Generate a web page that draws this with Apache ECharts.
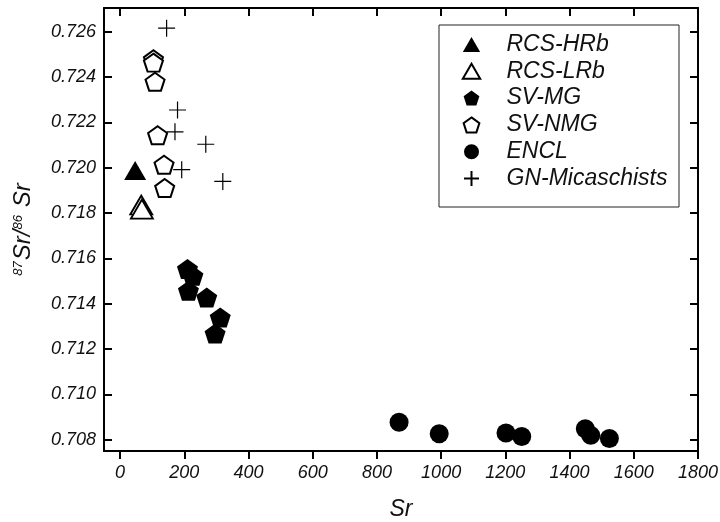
<!DOCTYPE html>
<html>
<head>
<meta charset="utf-8">
<script src="https://cdn.jsdelivr.net/npm/echarts@6/dist/echarts.min.js"></script>
<style>
  html, body { margin: 0; padding: 0; background: #fff; }
  #chart { width: 720px; height: 522px; }
</style>
</head>
<body>
<div id="chart"></div>
<script>
// Sr concentration (ppm) vs 87Sr/86Sr for each rock group
const rcsHRb = [[47, 0.71987]];
const rcsLRb = [[66, 0.71835], [68, 0.71817]];
const svMG = [[210, 0.71553], [227, 0.71523], [213, 0.71457], [270, 0.71427], [312, 0.71339], [296, 0.71268]];
const svNMG = [[104, 0.72478], [104, 0.72463], [109, 0.72379], [117, 0.72143], [137, 0.72013], [139, 0.71910]];
const encl = [[869, 0.70877], [994, 0.70826], [1202, 0.70829], [1251, 0.70814], [1449, 0.70848], [1466, 0.70819], [1524, 0.70805]];
const gnMicaschists = [[145, 0.72615], [179, 0.72254], [171, 0.72158], [267, 0.72103], [192, 0.71991], [320, 0.71939]];

const xTicks = [0, 200, 400, 600, 800, 1000, 1200, 1400, 1600, 1800];
const yTicks = [0.708, 0.710, 0.712, 0.714, 0.716, 0.718, 0.720, 0.722, 0.724, 0.726];

const TRIANGLE = 'path://M11,0 L22,19 L0,19 Z';
const PENTAGON = 'path://M10,0 L19.51,6.91 L15.88,18.09 L4.12,18.09 L0.49,6.91 Z';
const PLUS = 'path://M0,10 L20,10 M10,0 L10,20';
const FONT = '"Liberation Sans", Arial, sans-serif';

const chart = echarts.init(document.getElementById('chart'), null, { renderer: 'canvas' });

const frameLine = { show: true, onZero: false, lineStyle: { color: '#000', width: 2 } };

chart.setOption({
  animation: false,
  backgroundColor: '#fff',
  grid: { left: 104, right: 22, top: 8, bottom: 71, containLabel: false, outerBoundsMode: 'none' },
  legend: {
    orient: 'vertical',
    left: 439,
    top: 25,
    padding: [8, 11.5, 17, 22.5],
    itemWidth: 60,
    itemHeight: 15,
    itemGap: 3.8,
    borderColor: '#222',
    borderWidth: 1,
    textStyle: { fontFamily: FONT, fontStyle: 'italic', fontSize: 23, color: '#111' },
    data: [
      { name: 'RCS-HRb', icon: TRIANGLE },
      { name: 'RCS-LRb', icon: TRIANGLE },
      { name: 'SV-MG', icon: PENTAGON },
      { name: 'SV-NMG', icon: PENTAGON },
      { name: 'ENCL', icon: 'circle' },
      { name: 'GN-Micaschists', icon: PLUS }
    ]
  },
  xAxis: [
    {
      type: 'value', position: 'bottom', min: -50, max: 1800,
      name: 'Sr', nameLocation: 'middle', nameGap: 47,
      nameTextStyle: { fontFamily: FONT, fontStyle: 'italic', fontSize: 23, color: '#111' },
      axisLine: frameLine,
      axisTick: { show: true, inside: false, length: 8, customValues: xTicks, lineStyle: { color: '#000', width: 2 } },
      axisLabel: {
        customValues: xTicks, margin: 13, fontFamily: FONT, fontStyle: 'italic', fontSize: 18, color: '#111',
        formatter: v => String(v)
      },
      splitLine: { show: false }
    },
    {
      type: 'value', position: 'top', min: -50, max: 1800,
      axisLine: frameLine,
      axisTick: { show: true, inside: true, length: 8, customValues: xTicks, lineStyle: { color: '#000', width: 2 } },
      axisLabel: { show: false },
      splitLine: { show: false }
    }
  ],
  yAxis: [
    {
      type: 'value', position: 'left', min: 0.7075, max: 0.72704,
      name: '{sup|87}{big|Sr/}{sup|86}{big| Sr}', nameLocation: 'middle', nameRotate: 90, nameGap: 69,
      nameTextStyle: {
        rich: {
          sup: { fontFamily: FONT, fontStyle: 'italic', fontSize: 13, color: '#111', padding: [0, 1, 10, 0] },
          big: { fontFamily: FONT, fontStyle: 'italic', fontSize: 24, color: '#111' }
        }
      },
      axisLine: frameLine,
      axisTick: { show: true, inside: true, length: 8, customValues: yTicks, lineStyle: { color: '#000', width: 2 } },
      axisLabel: {
        customValues: yTicks, margin: 8, fontFamily: FONT, fontStyle: 'italic', fontSize: 18, color: '#111',
        formatter: v => v.toFixed(3)
      },
      splitLine: { show: false }
    },
    {
      type: 'value', position: 'right', min: 0.7075, max: 0.72704,
      axisLine: frameLine,
      axisTick: { show: true, inside: true, length: 8, customValues: yTicks, lineStyle: { color: '#000', width: 2 } },
      axisLabel: { show: false },
      splitLine: { show: false }
    }
  ],
  series: [
    {
      name: 'RCS-HRb', type: 'scatter', data: rcsHRb,
      symbol: TRIANGLE, symbolSize: [22, 19],
      itemStyle: { color: '#000', opacity: 1 }
    },
    {
      name: 'RCS-LRb', type: 'scatter', data: rcsLRb,
      symbol: TRIANGLE, symbolSize: [22, 19],
      itemStyle: { color: '#fff', borderColor: '#000', borderWidth: 1.8, opacity: 1 }
    },
    {
      name: 'SV-MG', type: 'scatter', data: svMG,
      symbol: PENTAGON, symbolSize: [21, 20],
      itemStyle: { color: '#000', opacity: 1 }
    },
    {
      name: 'SV-NMG', type: 'scatter', data: svNMG,
      symbol: PENTAGON, symbolSize: [19, 18],
      itemStyle: { color: '#fff', borderColor: '#000', borderWidth: 2, opacity: 1 }
    },
    {
      name: 'ENCL', type: 'scatter', data: encl,
      symbol: 'circle', symbolSize: 19,
      itemStyle: { color: '#000', opacity: 1 }
    },
    {
      name: 'GN-Micaschists', type: 'scatter', data: gnMicaschists,
      symbol: PLUS, symbolSize: 17,
      itemStyle: { color: 'none', borderColor: '#000', borderWidth: 1.2, opacity: 1 }
    }
  ]
});
</script>
</body>
</html>
